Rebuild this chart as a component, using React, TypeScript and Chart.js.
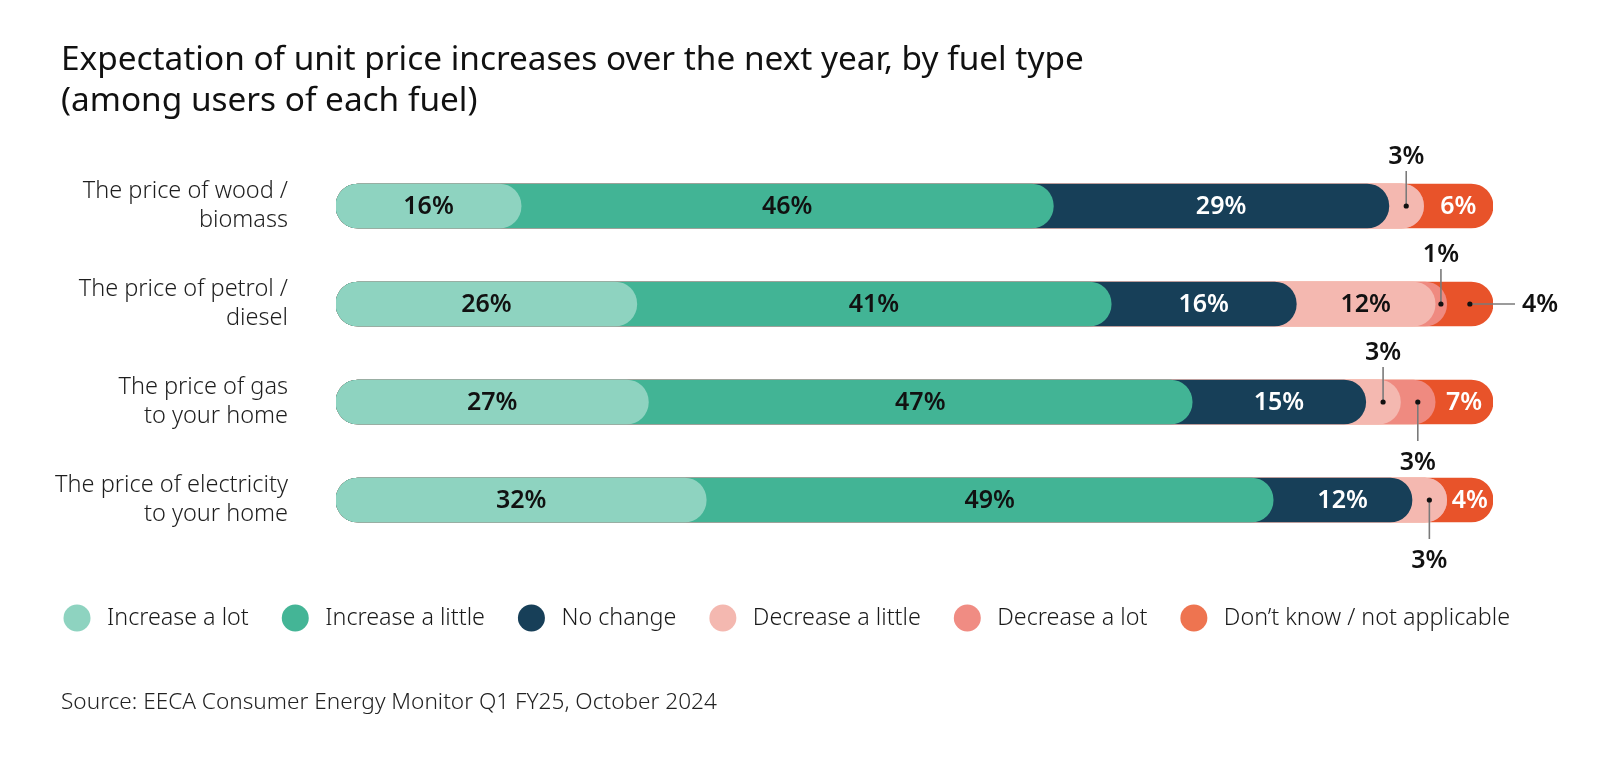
import React, { useEffect, useRef } from "react";
import { Chart, registerables } from "chart.js";

Chart.register(...registerables);

// ---------- data ----------
const categories: string[][] = [
  ["The price of wood /", "biomass"],
  ["The price of petrol /", "diesel"],
  ["The price of gas", "to your home"],
  ["The price of electricity", "to your home"],
];
const seriesNames = [
  "Increase a lot",
  "Increase a little",
  "No change",
  "Decrease a little",
  "Decrease a lot",
  "Don’t know / not applicable",
];
const increaseALot = [16, 26, 27, 32];
const increaseALittle = [46, 41, 47, 49];
const noChange = [29, 16, 15, 12];
const decreaseALittle = [3, 12, 3, 3];
const decreaseALot = [0, 1, 3, 0];
const dontKnow = [6, 4, 7, 4];
const seriesValues = [increaseALot, increaseALittle, noChange, decreaseALittle, decreaseALot, dontKnow];

const titleLines = [
  "Expectation of unit price increases over the next year, by fuel type",
  "(among users of each fuel)",
];
const sourceText = "Source: EECA Consumer Energy Monitor Q1 FY25, October 2024";

// ---------- styles ----------
const seriesColors = ["#8ED3C0", "#42B495", "#173F58", "#F4B8B0", "#EF8A80", "#E8532A"];
const legendColors = ["#8ED3C0", "#44B596", "#173F58", "#F4B8B0", "#F08C83", "#EE7450"];
const labelColors = ["#111111", "#111111", "#FFFFFF", "#111111", "#111111", "#FFFFFF"];
type Callout = { row: number; series: number; dir: "up" | "down" | "right" };
const callouts: Callout[] = [
  { row: 0, series: 3, dir: "up" },
  { row: 1, series: 4, dir: "up" },
  { row: 1, series: 5, dir: "right" },
  { row: 2, series: 3, dir: "up" },
  { row: 2, series: 4, dir: "down" },
  { row: 3, series: 3, dir: "down" },
];
const FONT = '"Noto Sans", sans-serif';

function cumulative(s: number): number[] {
  return categories.map((_, r) => {
    let t = 0;
    for (let k = 0; k <= s; k++) t += seriesValues[k][r];
    return Math.min(100, t);
  });
}

const overlayPlugin = {
  id: "overlay",
  afterDatasetsDraw(chart: any) {
    const ctx: CanvasRenderingContext2D = chart.ctx;
    const xs = chart.scales.x;
    const ys = chart.scales.y;
    ctx.save();
    // category labels (right-aligned, left of the bars)
    ctx.font = `300 23.5px ${FONT}`;
    ctx.fillStyle = "#1e1e1e";
    ctx.textAlign = "right";
    ctx.textBaseline = "middle";
    categories.forEach((lines, r) => {
      const cy = ys.getPixelForValue(r);
      const lh = 29;
      const y0 = cy - ((lines.length - 1) * lh) / 2;
      lines.forEach((ln, i) => ctx.fillText(ln, chart.chartArea.left - 48, y0 + i * lh));
    });
    categories.forEach((_, r) => {
      let prev = 0;
      seriesValues.forEach((vals, s) => {
        const v = vals[r];
        const start = Math.min(100, prev);
        const end = Math.min(100, prev + v);
        prev += v;
        if (v <= 0) return;
        const x0 = xs.getPixelForValue(start);
        const x1 = xs.getPixelForValue(end);
        const cx = (x0 + x1) / 2;
        const bar = chart.getDatasetMeta(s).data[r];
        const cy = bar.y;
        const h = bar.height;
        const text = v + "%";
        const co = callouts.find((c) => c.row === r && c.series === s);
        ctx.font = `600 25px ${FONT}`;
        ctx.textBaseline = "middle";
        if (!co) {
          ctx.fillStyle = labelColors[s];
          ctx.textAlign = "center";
          ctx.fillText(text, cx, cy + 1);
          return;
        }
        let lx = cx, ly = cy, tx = cx, ty = cy;
        ctx.textAlign = "center";
        if (co.dir === "up") {
          ly = cy - h / 2 - 13;
          ty = ly - 15;
        } else if (co.dir === "down") {
          ly = cy + h / 2 + 17;
          ty = ly + 21;
        } else {
          lx = x1 + 22;
          tx = lx + 7;
          ctx.textAlign = "left";
        }
        ctx.strokeStyle = "#7a7a7a";
        ctx.lineWidth = 1.6;
        ctx.beginPath();
        ctx.moveTo(cx, cy);
        ctx.lineTo(lx, ly);
        ctx.stroke();
        ctx.fillStyle = "#111111";
        ctx.beginPath();
        ctx.arc(cx, cy, 2.6, 0, Math.PI * 2);
        ctx.fill();
        ctx.fillText(text, tx, ty + 1);
      });
    });
    ctx.restore();
  },
  afterDraw(chart: any) {
    const ctx: CanvasRenderingContext2D = chart.ctx;
    ctx.save();
    ctx.font = `300 23.3px ${FONT}`;
    ctx.textBaseline = "middle";
    ctx.textAlign = "left";
    const y = 618;
    let left = 63.5;
    const rad = 13.5;
    seriesNames.forEach((name, i) => {
      const cx = left + rad;
      ctx.fillStyle = legendColors[i];
      ctx.beginPath();
      ctx.arc(cx, y, rad, 0, Math.PI * 2);
      ctx.fill();
      ctx.fillStyle = "#1a1a1a";
      const tx = cx + 30;
      ctx.fillText(name, tx, y);
      const w = ctx.measureText(name).width;
      left = tx + w + 33;
    });
    ctx.restore();
  },
};

function fitTitleSize(): number {
  const c = document.createElement("canvas").getContext("2d");
  if (!c) return 32;
  c.font = `400 32px ${FONT}`;
  const w = c.measureText(titleLines[0]).width;
  return Math.max(26, Math.min(36, (32 * 1023) / w));
}

export default function App() {
  const ref = useRef<HTMLCanvasElement | null>(null);
  useEffect(() => {
    document.body.style.margin = "0";
    if (!ref.current) return;
    const titleSize = fitTitleSize();
    const chart = new Chart(ref.current, {
      type: "bar",
      data: {
        labels: categories,
        datasets: seriesNames.map((name, s) => ({
          label: name,
          data: cumulative(s),
          backgroundColor: seriesColors[s],
          borderWidth: 0,
          borderRadius: 30,
          borderSkipped: false,
          barThickness: 44,
          grouped: false,
        })) as any,
      },
      options: {
        indexAxis: "y",
        responsive: false,
        animation: false,
        events: [],
        layout: { padding: { left: 61, right: 107, top: 0, bottom: 0 } },
        scales: {
          x: { display: false, min: 0, max: 100, stacked: false },
          y: {
            display: true,
            grid: { display: false, drawTicks: false },
            border: { display: false },
            ticks: { display: false },
            afterFit: (scale: any) => {
              scale.width = 275;
            },
          },
        },
        plugins: {
          legend: { display: false },
          tooltip: { enabled: false },
          title: {
            display: true,
            text: titleLines,
            align: "start",
            color: "#111111",
            font: { family: FONT, size: titleSize, weight: 400 as any, lineHeight: "41px" as any },
            padding: { top: 40, bottom: 35 },
          },
          subtitle: {
            display: true,
            position: "bottom",
            text: sourceText,
            align: "start",
            color: "#222222",
            font: { family: FONT, size: 22.6, weight: 300 as any, lineHeight: "26px" as any },
            padding: { top: 141, bottom: 44 },
          },
        },
      },
      plugins: [overlayPlugin],
    });
    return () => chart.destroy();
  }, []);
  return (
    <div style={{ position: "fixed", left: 0, top: 0, width: 1600, height: 760, background: "#ffffff" }}>
      <canvas ref={ref} width={1600} height={760} style={{ width: 1600, height: 760, display: "block" }} />
    </div>
  );
}
